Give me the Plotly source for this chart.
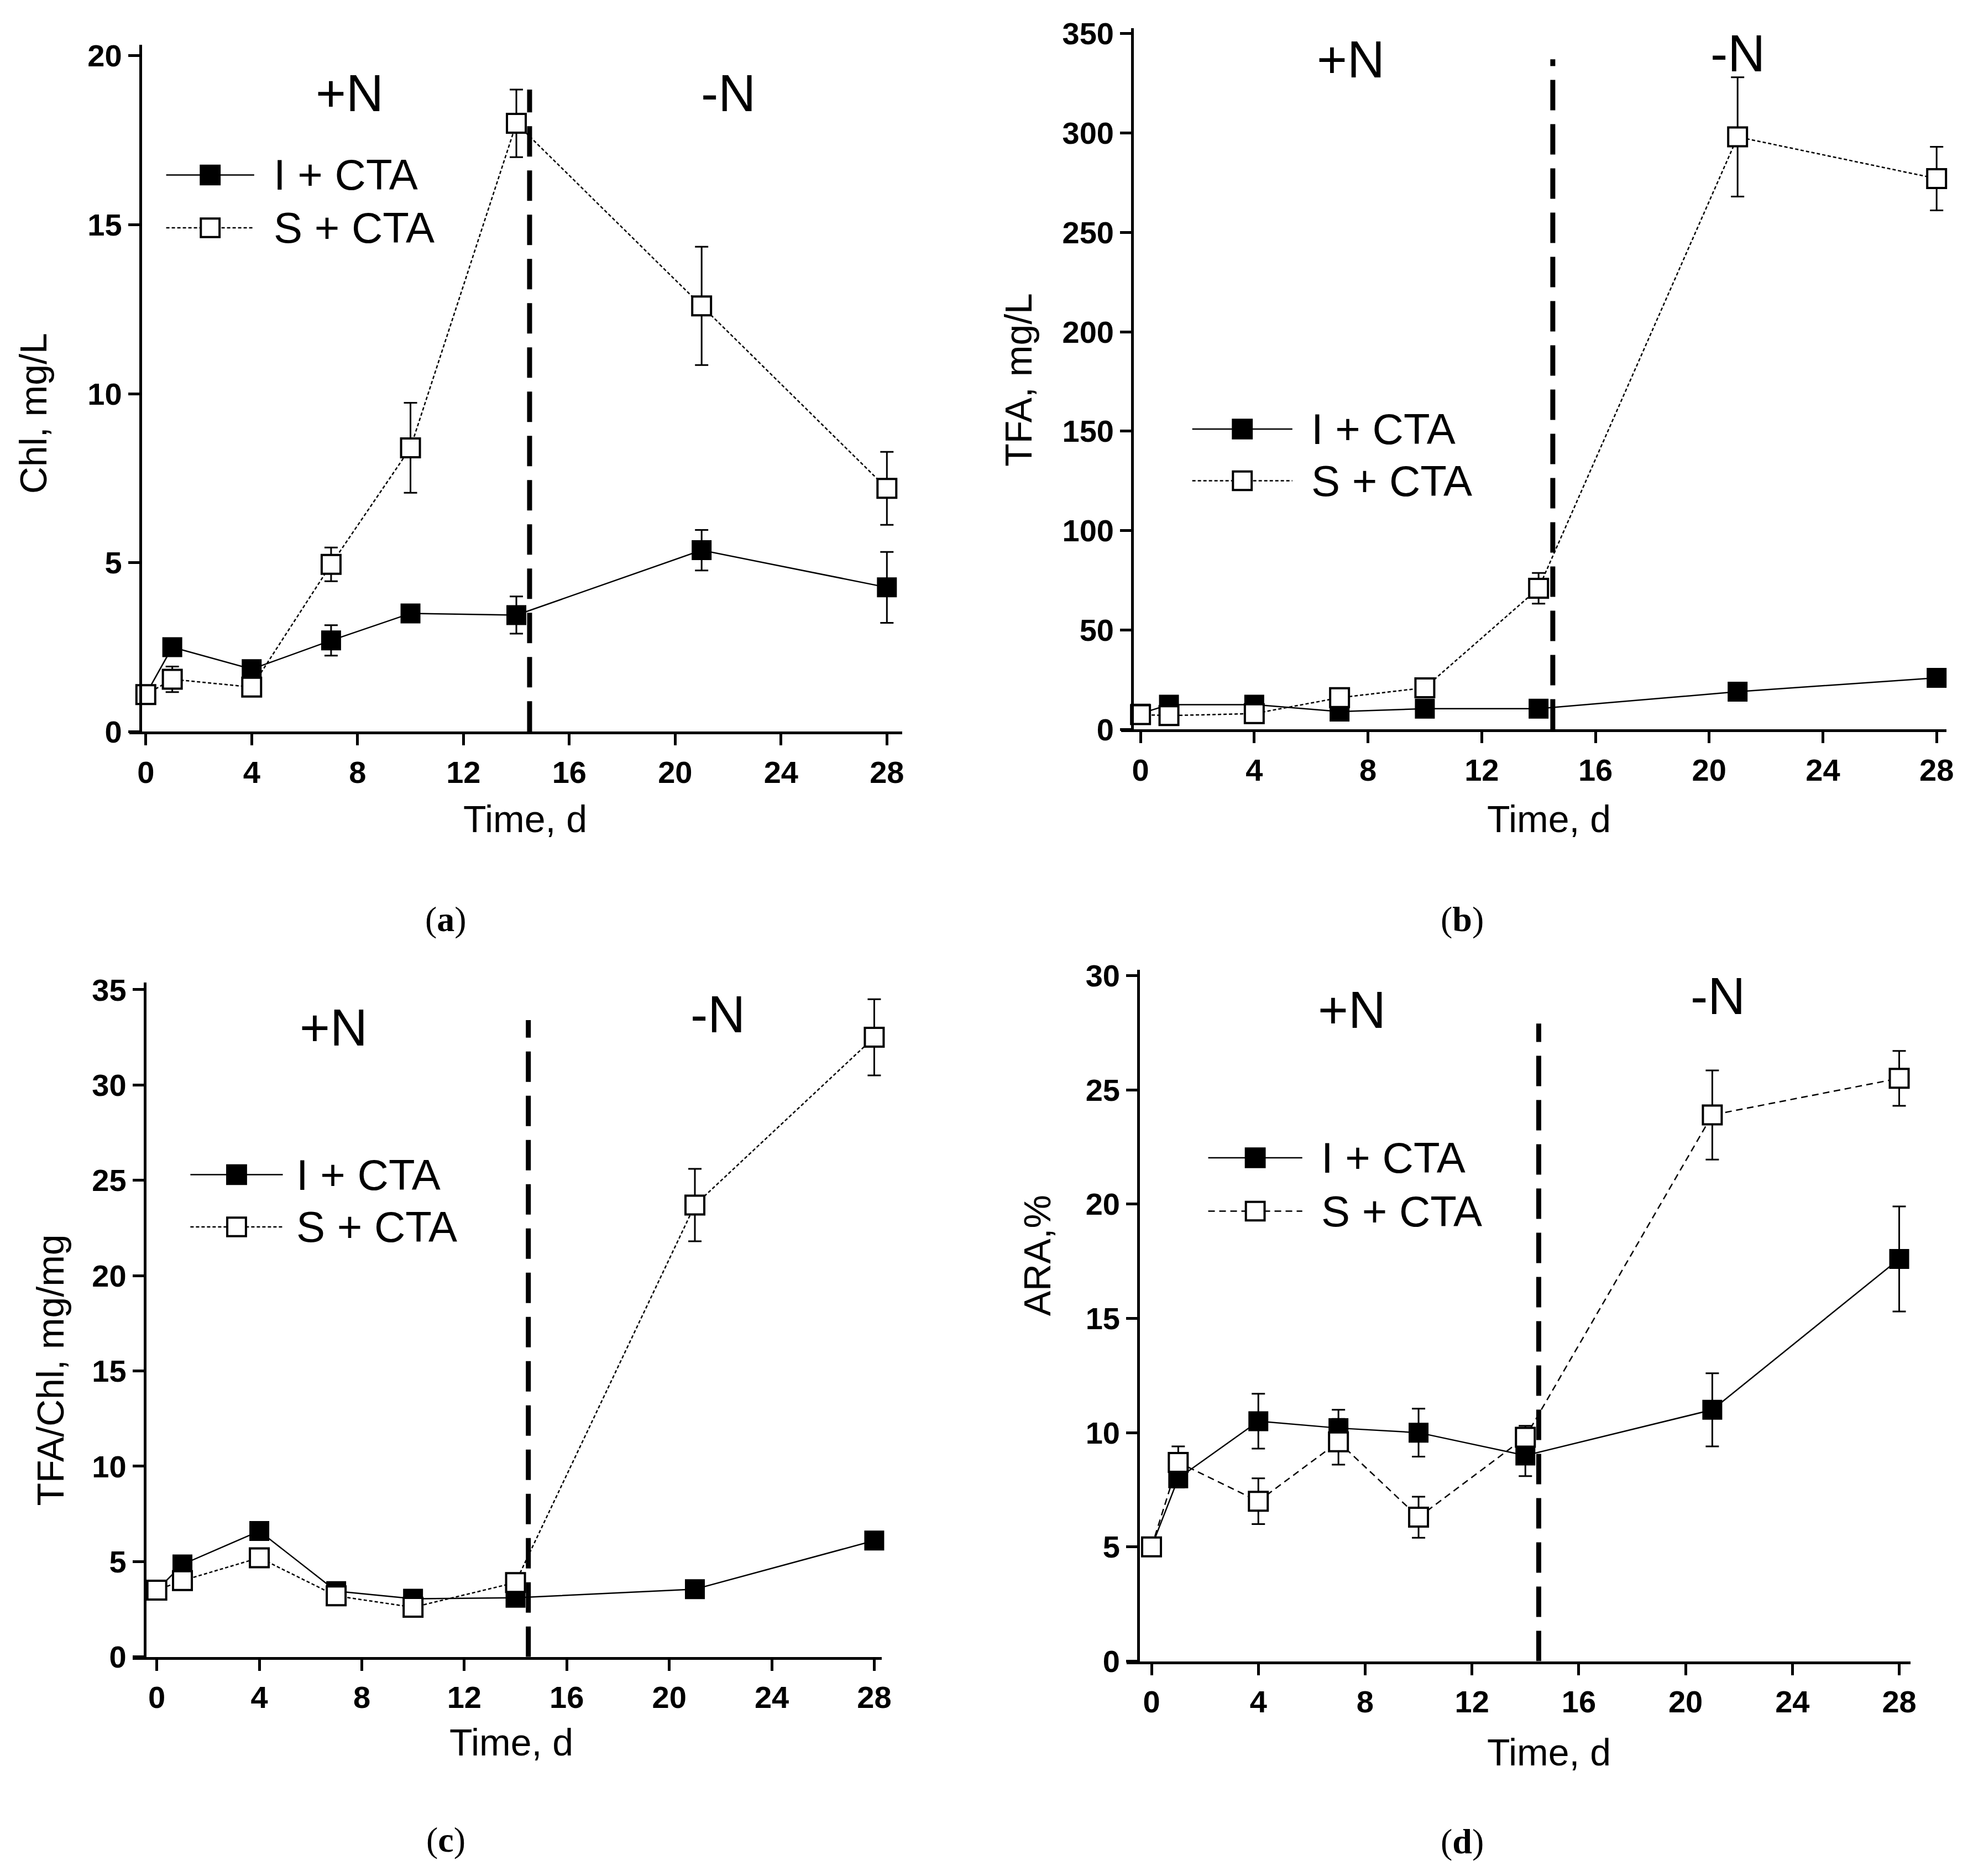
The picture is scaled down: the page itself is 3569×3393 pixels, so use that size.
import plotly.graph_objects as go

# ---------------- data ----------------
days = [0, 1, 4, 7, 10, 14, 21, 28]
series_names = ["I + CTA", "S + CTA"]
x_ticks = [0, 4, 8, 12, 16, 20, 24, 28]

# (a) Chl, mg/L
chl_I = [1.1, 2.5, 1.85, 2.7, 3.5, 3.45, 5.37, 4.27]
chl_I_err = [0.1, 0.2, 0.22, 0.45, 0.12, 0.55, 0.6, 1.05]
chl_S = [1.1, 1.55, 1.32, 4.95, 8.4, 18.0, 12.6, 7.2]
chl_S_err = [0.1, 0.38, 0.1, 0.5, 1.33, 1.0, 1.75, 1.08]

# (b) TFA, mg/L
tfa_I = [8, 12.5, 12.5, 9.0, 10.5, 10.5, 19.0, 26.0]
tfa_I_err = [1.0, 1.5, 1.5, 1.2, 1.2, 1.2, 1.5, 1.8]
tfa_S = [7.5, 7.0, 8.0, 16.0, 21.0, 71.0, 298.0, 277.0]
tfa_S_err = [2.0, 2.0, 2.5, 4.0, 3.5, 7.7, 30.0, 16.0]

# (c) TFA/Chl, mg/mg
ratio_I = [3.5, 4.85, 6.6, 3.45, 3.05, 3.1, 3.55, 6.1]
ratio_I_err = [0.2, 0.3, 0.3, 0.2, 0.2, 0.2, 0.2, 0.3]
ratio_S = [3.5, 4.0, 5.2, 3.2, 2.6, 3.9, 23.7, 32.5]
ratio_S_err = [0.3, 0.3, 0.3, 0.3, 0.3, 0.3, 1.9, 2.0]

# (d) ARA, %
ara_I = [5.0, 8.0, 10.5, 10.2, 10.0, 9.0, 11.0, 17.6]
ara_I_err = [0.15, 0.4, 1.2, 0.8, 1.05, 0.9, 1.6, 2.3]
ara_S = [5.0, 8.7, 7.0, 9.6, 6.3, 9.8, 23.9, 25.5]
ara_S_err = [0.15, 0.7, 1.0, 1.0, 0.9, 0.5, 1.95, 1.2]

y_titles = ["Chl, mg/L", "TFA, mg/L", "TFA/Chl, mg/mg", "ARA,%"]
panel_tags = ["a", "b", "c", "d"]
region_labels = ["+N", "-N"]
switch_day = 14.5

# ---------------- layout (pixels of the full page) ----------------
W, H = 3569, 3393
OFF = 8                      # default page body margin
FW, FH = W - 2 * OFF, H - 2 * OFF

panels = [
    dict(data=(chl_I, chl_I_err, chl_S, chl_S_err), ytop_val=20, dtick=5,
         x_left=235, x_right=1640, x0=265, x28=1612, yaxis_x=255,
         y_top=61, y_bottom=1323, ytop_tick=81,
         vline_top=19.0, plusN=(7.7, 18.9), minusN=(22.0, 18.9),
         leg=dict(x1=302, x2=462, tx=495, y1=300, y2=397),
         ytitle=(60, 738), xtitle=(955, 1483), tag=(810, 1668), dash="6px,4px"),
    dict(data=(tfa_I, tfa_I_err, tfa_S, tfa_S_err), ytop_val=350, dtick=50,
         x_left=2038, x_right=3538, x0=2073, x28=3520, yaxis_x=2058,
         y_top=30, y_bottom=1319, ytop_tick=40,
         vline_top=337, plusN=(7.4, 337), minusN=(21.0, 340),
         leg=dict(x1=2167, x2=2349, tx=2381, y1=767, y2=862),
         ytitle=(1850, 676), xtitle=(2815, 1483), tag=(2658, 1668), dash="6px,4px"),
    dict(data=(ratio_I, ratio_I_err, ratio_S, ratio_S_err), ytop_val=35, dtick=5,
         x_left=241, x_right=1603, x0=285, x28=1589, yaxis_x=263,
         y_top=1784, y_bottom=3023, ytop_tick=1797,
         vline_top=33.4, plusN=(6.9, 33.0), minusN=(21.9, 33.7),
         leg=dict(x1=346, x2=514, tx=537, y1=2137, y2=2233),
         ytitle=(91, 2496), xtitle=(929, 3180), tag=(810, 3359), dash="6px,4px"),
    dict(data=(ara_I, ara_I_err, ara_S, ara_S_err), ytop_val=30, dtick=5,
         x_left=2048, x_right=3473, x0=2093, x28=3452, yaxis_x=2069,
         y_top=1761, y_bottom=3031, ytop_tick=1771,
         vline_top=27.9, plusN=(7.5, 28.5), minusN=(21.2, 29.1),
         leg=dict(x1=2196, x2=2367, tx=2399, y1=2106, y2=2204),
         ytitle=(1885, 2286), xtitle=(2815, 3198), tag=(2658, 3362), dash="12px,8px"),
]

TICK_FONT = dict(family="Liberation Sans Narrow, Arial Narrow, Liberation Sans, Arial",
                 size=56, color="black", weight="bold")
TITLE_FONT = dict(family="Liberation Sans, Arial", size=68, color="black")
LEG_FONT = dict(family="Liberation Sans, Arial", size=78, color="black")
REGION_FONT = dict(family="Liberation Sans, Arial", size=94, color="black")
TAG_FONT = dict(family="Liberation Serif, Times New Roman, serif", size=64, color="black")

MSIZE = 34


def px(x):
    return (x - OFF) / FW


def py(y):
    return 1 - (y - OFF) / FH


fig = go.Figure()
shapes = []
annotations = []
layout = {}

for i, p in enumerate(panels):
    n = i + 1
    xa = "xaxis" if n == 1 else f"xaxis{n}"
    ya = "yaxis" if n == 1 else f"yaxis{n}"
    xr = "x" if n == 1 else f"x{n}"
    yr = "y" if n == 1 else f"y{n}"

    s = (p["x28"] - p["x0"]) / 28.0
    xrange = [(p["x_left"] - p["x0"]) / s, (p["x_right"] - p["x0"]) / s]
    sy = (p["y_bottom"] - p["ytop_tick"]) / p["ytop_val"]
    yrange = [0, p["ytop_val"] + (p["ytop_tick"] - p["y_top"]) / sy]

    layout[xa] = dict(domain=[px(p["x_left"]), px(p["x_right"])], range=xrange,
                      anchor=yr, showline=True, linewidth=5, linecolor="black",
                      ticks="outside", ticklen=20, tickwidth=5, tickcolor="black",
                      tickvals=x_ticks, tickfont=TICK_FONT, showgrid=False,
                      zeroline=False, fixedrange=True)
    layout[ya] = dict(domain=[py(p["y_bottom"]), py(p["y_top"])], range=yrange,
                      anchor="free", position=px(p["yaxis_x"]), showline=True,
                      linewidth=5, linecolor="black", ticks="outside", ticklen=20,
                      tickwidth=5, tickcolor="black", dtick=p["dtick"], tick0=0,
                      tickfont=TICK_FONT, showgrid=False, zeroline=False,
                      fixedrange=True)

    vI, eI, vS, eS = p["data"]
    fig.add_trace(go.Scatter(
        x=days, y=vI, mode="lines+markers", name=series_names[0],
        xaxis=xr, yaxis=yr, cliponaxis=False,
        line=dict(color="black", width=2.5),
        marker=dict(symbol="square", size=MSIZE, color="black",
                    line=dict(color="black", width=2)),
        error_y=dict(type="data", array=eI, color="black", thickness=3, width=12)))
    fig.add_trace(go.Scatter(
        x=days, y=vS, mode="lines+markers", name=series_names[1],
        xaxis=xr, yaxis=yr, cliponaxis=False,
        line=dict(color="black", width=2.5, dash=p["dash"]),
        marker=dict(symbol="square", size=MSIZE, color="white",
                    line=dict(color="black", width=4)),
        error_y=dict(type="data", array=eS, color="black", thickness=3, width=12)))

    # nitrogen switch line
    shapes.append(dict(type="line", xref=xr, yref=yr, x0=switch_day, x1=switch_day,
                       y0=0, y1=p["vline_top"],
                       line=dict(color="black", width=9, dash="55px,25px")))
    # +N / -N
    for lbl, pos in zip(region_labels, [p["plusN"], p["minusN"]]):
        annotations.append(dict(text=lbl, x=pos[0], y=pos[1], xref=xr, yref=yr,
                                showarrow=False, font=REGION_FONT,
                                xanchor="center", yanchor="middle"))

    # manual legend
    lg = p["leg"]
    mx = (lg["x1"] + lg["x2"]) / 2
    half = MSIZE / 2
    for k, (ly, fill, dash) in enumerate([(lg["y1"], "black", "solid"),
                                          (lg["y2"], "white", p["dash"])]):
        shapes.append(dict(type="line", xref="paper", yref="paper",
                           x0=px(lg["x1"]), x1=px(lg["x2"]), y0=py(ly), y1=py(ly),
                           line=dict(color="black", width=2.5, dash=dash)))
        shapes.append(dict(type="rect", xref="paper", yref="paper",
                           x0=px(mx - half), x1=px(mx + half),
                           y0=py(ly + half), y1=py(ly - half),
                           fillcolor=fill, line=dict(color="black", width=4)))
        annotations.append(dict(text=series_names[k], x=px(lg["tx"]), y=py(ly),
                                xref="paper", yref="paper", showarrow=False,
                                font=LEG_FONT, xanchor="left", yanchor="middle"))

    # axis titles
    annotations.append(dict(text=y_titles[i], x=px(p["ytitle"][0]), y=py(p["ytitle"][1]),
                            xref="paper", yref="paper", showarrow=False, textangle=-90,
                            font=TITLE_FONT, xanchor="center", yanchor="middle"))
    annotations.append(dict(text="Time, d", x=px(p["xtitle"][0]), y=py(p["xtitle"][1]),
                            xref="paper", yref="paper", showarrow=False,
                            font=TITLE_FONT, xanchor="center", yanchor="middle"))
    annotations.append(dict(text=f"(<b>{panel_tags[i]}</b>)", x=px(p["tag"][0]),
                            y=py(p["tag"][1]), xref="paper", yref="paper",
                            showarrow=False, font=TAG_FONT,
                            xanchor="center", yanchor="middle"))

fig.update_layout(width=FW, height=FH, margin=dict(l=0, r=0, t=0, b=0),
                  paper_bgcolor="white", plot_bgcolor="white", showlegend=False,
                  shapes=shapes, annotations=annotations, **layout)

fig.write_html("out.html")
